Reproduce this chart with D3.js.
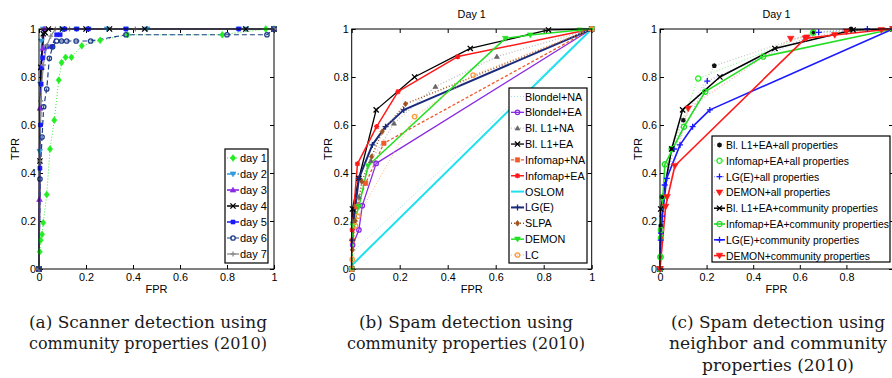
<!DOCTYPE html>
<html>
<head>
<meta charset="utf-8">
<script src="https://cdn.jsdelivr.net/npm/d3@7"></script>
<style>
  body { margin: 0; background: #fff; }
  svg { display: block; }
  text { font-family: "Liberation Sans", Arial, Helvetica, sans-serif; }
</style>
</head>
<body>
<svg id="chart" width="892" height="378"></svg>
<script>
// ---- data: [FPR, TPR] pairs ----
const ticks = [0, 0.2, 0.4, 0.6, 0.8, 1];
const tickLabels = ['0', '0.2', '0.4', '0.6', '0.8', '1'];

// (a) scanner detection, day 1..7
const aDays = ['day 1', 'day 2', 'day 3', 'day 4', 'day 5', 'day 6', 'day 7'];
const aDay1 = [[0,0],[0.003,0.072],[0.007,0.12],[0.013,0.144],[0.018,0.193],[0.033,0.31],[0.047,0.5],[0.065,0.62],[0.084,0.787],[0.096,0.86],[0.113,0.882],[0.138,0.882],[0.182,0.93],[0.26,0.953],[0.377,0.976],[0.78,0.976],[0.965,1],[1,1]];
const aDay2 = [[0,0],[0.003,0.49],[0.006,0.77],[0.01,0.95],[0.018,1],[0.1,1],[0.16,1],[0.21,1],[0.29,1],[0.37,1],[0.46,1],[0.85,1],[0.88,1],[1,1]];
const aDay3 = [[0,0],[0.002,0.29],[0.004,0.67],[0.01,0.84],[0.016,0.92],[0.022,1],[1,1]];
const aDay4 = [[0,0],[0.004,0.45],[0.008,0.84],[0.018,0.98],[0.026,0.985],[0.04,1],[0.1,1],[0.2,1],[0.3,1],[0.45,1],[0.88,1],[1,1]];
const aDay5 = [[0,0],[0.004,0.42],[0.006,0.6],[0.009,0.77],[0.012,0.84],[0.016,0.88],[0.033,0.926],[0.054,0.926],[0.075,0.976],[0.09,0.976],[0.11,1],[0.16,1],[0.21,1],[0.37,1],[0.85,1],[1,1]];
const aDay6 = [[0,0],[0.004,0.375],[0.013,0.55],[0.02,0.676],[0.033,0.75],[0.044,0.878],[0.058,0.926],[0.075,0.95],[0.096,0.95],[0.118,0.95],[0.158,0.95],[0.22,0.95],[0.37,0.976],[0.8,0.976],[0.97,0.976],[1,1]];
const aDay7 = [[0,0],[0.003,0.45],[0.007,0.7],[0.018,0.85],[0.033,0.93],[0.05,0.97],[0.07,1],[0.13,1],[0.41,1],[1,1]];

// (b) spam detection, community properties
const bNames = ['Blondel+NA', 'Blondel+EA', 'Bl. L1+NA', 'Bl. L1+EA', 'Infomap+NA', 'Infomap+EA', 'OSLOM', 'LG(E)', 'SLPA', 'DEMON', 'LC'];
const bBlondelNA = [[0,0],[0.014,0.08],[1,1]];
const bBlondelEA = [[0,0],[0.004,0.1],[0.03,0.163],[0.044,0.264],[0.102,0.44],[1,1]];
const bBlL1NA = [[0,0],[0.005,0.2],[0.03,0.3],[0.08,0.45],[0.176,0.607],[0.349,0.76],[0.605,0.885],[1,1]];
const bBlL1EA = [[0,0],[0.003,0.25],[0.03,0.378],[0.102,0.663],[0.262,0.8],[0.494,0.919],[0.82,0.996],[1,1]];
const bInfomapNA = [[0,0],[0.003,0.12],[0.02,0.26],[0.058,0.357],[0.134,0.524],[1,1]];
const bInfomapEA = [[0,0],[0.002,0.163],[0.024,0.438],[0.104,0.593],[0.193,0.739],[0.442,0.885],[1,1]];
const bOSLOM = [[0,0],[0.005,0.02],[1,1]];
const bLGE = [[0,0],[0.002,0.12],[0.01,0.22],[0.03,0.378],[0.086,0.517],[0.141,0.593],[0.217,0.663],[1,1]];
const bSLPA = [[0,0],[0.003,0.08],[0.015,0.2],[0.042,0.364],[0.083,0.468],[0.127,0.572],[0.224,0.688],[1,1]];
const bDEMON = [[0,0],[0.005,0.18],[0.03,0.26],[0.068,0.43],[0.64,0.961],[0.744,0.975],[0.95,0.996],[1,1]];
const bLC = [[0,0],[0.002,0.04],[0.016,0.18],[0.026,0.22],[0.262,0.635],[0.506,0.808],[1,1]];

// (c) spam detection, neighbor + community properties
const cNames = ['Bl. L1+EA+all properties', 'Infomap+EA+all properties', 'LG(E)+all properties', 'DEMON+all properties',
  'Bl. L1+EA+community properties', 'Infomap+EA+community properties', 'LG(E)+community properties', 'DEMON+community properties'];
const cBlAll = [[0,0],[0.003,0.18],[0.01,0.3],[0.05,0.503],[0.1,0.62],[0.233,0.847],[0.66,0.985],[0.82,1],[1,1]];
const cInfAll = [[0,0],[0.002,0.05],[0.004,0.13],[0.01,0.3],[0.05,0.5],[0.164,0.794],[0.657,0.985],[1,1]];
const cLGAll = [[0,0],[0.004,0.15],[0.02,0.35],[0.06,0.5],[0.203,0.783],[0.681,0.986],[0.89,1],[1,1]];
const cDemAll = [[0,0],[0.03,0.3],[0.121,0.669],[0.561,0.96],[0.63,0.965],[0.8,0.99],[1,1]];
const cBlCom = [[0,0],[0.003,0.25],[0.05,0.5],[0.097,0.663],[0.257,0.8],[0.493,0.919],[0.829,0.996],[1,1]];
const cInfCom = [[0,0],[0.002,0.05],[0.004,0.163],[0.021,0.436],[0.103,0.593],[0.194,0.739],[0.443,0.885],[1,1]];
const cLGCom = [[0,0],[0.003,0.12],[0.01,0.22],[0.029,0.378],[0.086,0.517],[0.14,0.593],[0.214,0.663],[1,1]];
const cDemCom = [[0,0],[0.024,0.26],[0.064,0.43],[0.624,0.961],[0.75,0.975],[0.95,0.996],[1,1]];

const DOT = '1,2', DASH = '5,3', DASHDOT = '5,2,1.5,2';

// marker paths centred on 0,0
function marker(type, s) {
  switch (type) {
    case 'circle': return `M${s},0A${s},${s} 0 1,1 ${-s},0A${s},${s} 0 1,1 ${s},0Z`;
    case 'square': return `M${-s},${-s}H${s}V${s}H${-s}Z`;
    case 'diamond': return `M0,${-s*1.3}L${s},0L0,${s*1.3}L${-s},0Z`;
    case 'tdown': return `M${-s*1.1},${-s*0.8}H${s*1.1}L0,${s*1.1}Z`;
    case 'tup': return `M${-s*1.1},${s*0.8}H${s*1.1}L0,${-s*1.1}Z`;
    case 'plus': return `M${-s},0H${s}M0,${-s}V${s}`;
    case 'x': return `M${-s},${-s}L${s},${s}M${-s},${s}L${s},${-s}`;
    case 'star': return `M${-s},0H${s}M0,${-s}V${s}M${-s*0.75},${-s*0.75}L${s*0.75},${s*0.75}M${-s*0.75},${s*0.75}L${s*0.75},${-s*0.75}`;
  }
}

function drawMarker(g, m, mc, x, y, size) {
  const p = g.append('path').attr('d', marker(m, size)).attr('transform', `translate(${x},${y})`);
  if (m === 'plus' || m === 'x' || m === 'star') p.attr('fill', 'none').attr('stroke', mc).attr('stroke-width', 1.3);
  else if (m === 'circle') p.attr('fill', 'none').attr('stroke', mc).attr('stroke-width', 1.3);
  else p.attr('fill', mc).attr('stroke', mc).attr('stroke-width', 0.6);
}

const svg = d3.select('#chart');
const FONT = '"Liberation Sans", Arial, Helvetica, sans-serif';

function panel(cfg) {
  const x = d3.scaleLinear().domain([0, 1]).range([cfg.left, cfg.right]);
  const y = d3.scaleLinear().domain([0, 1]).range([269, 29]);
  const g = svg.append('g');
  const fmtY = (d, i) => tickLabels[i];
  const fmtX = (d, i) => (cfg.hideLastX && i === ticks.length - 1) ? '' : tickLabels[i];

  g.append('g').attr('transform', 'translate(0,269)')
    .call(d3.axisBottom(x).tickValues(ticks).tickFormat(fmtX).tickSizeInner(-4).tickSizeOuter(0).tickPadding(4));
  g.append('g').attr('transform', `translate(${cfg.left},0)`)
    .call(d3.axisLeft(y).tickValues(ticks).tickFormat(fmtY).tickSizeInner(-4).tickSizeOuter(0).tickPadding(3));
  g.append('g').attr('transform', 'translate(0,29)')
    .call(d3.axisTop(x).tickValues(ticks).tickFormat('').tickSizeInner(-4).tickSizeOuter(0));
  g.append('g').attr('transform', `translate(${cfg.right},0)`)
    .call(d3.axisRight(y).tickValues(ticks).tickFormat('').tickSizeInner(-4).tickSizeOuter(0));
  g.selectAll('.domain').remove();
  g.selectAll('.tick line').attr('stroke', '#000');
  g.selectAll('.tick text').attr('fill', '#000').attr('font-family', FONT).style('font-size', '10.8px');

  const line = d3.line().x(d => x(d[0])).y(d => y(d[1]));
  cfg.series.forEach(s => {
    g.append('path').datum(s.data).attr('d', line)
      .attr('fill', 'none').attr('stroke', s.color).attr('stroke-width', s.width || 1.3)
      .attr('stroke-dasharray', s.dash || null).attr('stroke-linejoin', 'round');
  });
  cfg.series.forEach(s => {
    s.data.forEach(d => drawMarker(g, s.marker, s.mcolor || s.color, x(d[0]), y(d[1]), s.msize || 2.6));
  });

  g.append('rect').attr('x', cfg.left).attr('y', 29).attr('width', cfg.right - cfg.left).attr('height', 240)
    .attr('fill', 'none').attr('stroke', '#000').attr('stroke-width', 1);

  // legend
  const L = cfg.legend;
  g.append('rect').attr('x', L.x0).attr('y', L.y0).attr('width', L.x1 - L.x0).attr('height', L.y1 - L.y0)
    .attr('fill', '#fff').attr('stroke', '#000').attr('stroke-width', 1.2);
  cfg.series.forEach((s, i) => {
    const yy = L.first + i * L.step;
    g.append('line').attr('x1', L.x0 + 2).attr('x2', L.x0 + 2 + L.len).attr('y1', yy).attr('y2', yy)
      .attr('stroke', s.color).attr('stroke-width', s.width || 1.3).attr('stroke-dasharray', s.dash || null);
    drawMarker(g, s.marker, s.mcolor || s.color, L.x0 + 2 + L.len / 2, yy, s.msize || 2.6);
    g.append('text').attr('x', L.x0 + 3 + L.len).attr('y', yy + 4).attr('font-family', FONT)
      .style('font-size', L.font + 'px').attr('fill', '#000').text(s.name);
  });

  const mid = (cfg.left + cfg.right) / 2;
  g.append('text').attr('x', mid).attr('y', 293).attr('text-anchor', 'middle').style('font-size', '11px').text('FPR');
  g.append('text').attr('transform', `translate(${cfg.ylab},149) rotate(-90)`).attr('dy', '0.35em')
    .attr('text-anchor', 'middle').style('font-size', '11px').text('TPR');
  if (cfg.title) g.append('text').attr('x', mid).attr('y', 18).attr('text-anchor', 'middle')
    .style('font-size', '10.8px').text(cfg.title);

  cfg.caption.lines.forEach((t, i) => {
    svg.append('text').attr('x', cfg.caption.cx).attr('y', 328 + i * 21.3).attr('text-anchor', 'middle')
      .attr('textLength', cfg.caption.widths[i]).attr('lengthAdjust', 'spacingAndGlyphs')
      .style('font-family', '"DejaVu Serif", "Liberation Serif", serif').style('font-size', '17.5px')
      .attr('fill', '#1a1a1a').text(t);
  });
}

panel({
  left: 39, right: 274, ylab: 15,
  series: [
    { name: aDays[0], data: aDay1, color: '#33ee33', dash: DOT, marker: 'diamond', mcolor: '#22ee22', width: 1 },
    { name: aDays[1], data: aDay2, color: '#3399dd', dash: DASHDOT, marker: 'tdown' },
    { name: aDays[2], data: aDay3, color: '#8a2be2', marker: 'tup', width: 1.6 },
    { name: aDays[3], data: aDay4, color: '#000000', marker: 'x', width: 1.5 },
    { name: aDays[4], data: aDay5, color: '#1a1aff', dash: DASH, marker: 'square', msize: 2 },
    { name: aDays[5], data: aDay6, color: '#1f3d8a', dash: DASH, marker: 'circle', width: 1.2, msize: 2.2 },
    { name: aDays[6], data: aDay7, color: '#8c8c8c', marker: 'plus' }
  ],
  legend: { x0: 225, x1: 268, y0: 149, y1: 263, first: 158, step: 16, len: 12, font: 11 },
  caption: { cx: 148, lines: ['(a) Scanner detection using', 'community properties (2010)'], widths: [238, 238] }
});

panel({
  left: 351.7, right: 591.7, ylab: 328, title: 'Day 1',
  series: [
    { name: bNames[0], data: bBlondelNA, color: '#9fe3ea', dash: DOT, marker: 'square', msize: 0.1, width: 1 },
    { name: bNames[1], data: bBlondelEA, color: '#8a2be2', marker: 'circle', msize: 2.2 },
    { name: bNames[2], data: bBlL1NA, color: '#bdbdbd', dash: DOT, marker: 'tup', mcolor: '#666', msize: 2.3 },
    { name: bNames[3], data: bBlL1EA, color: '#000000', marker: 'x', msize: 2.6 },
    { name: bNames[4], data: bInfomapNA, color: '#ef5a2a', dash: '3,2', marker: 'square', msize: 2.2 },
    { name: bNames[5], data: bInfomapEA, color: '#ff1a1a', marker: 'star', width: 1.5 },
    { name: bNames[6], data: bOSLOM, color: '#1ee0ee', marker: 'square', msize: 0.1, width: 2 },
    { name: bNames[7], data: bLGE, color: '#1a2a7a', marker: 'plus', width: 2, msize: 3 },
    { name: bNames[8], data: bSLPA, color: '#a0521e', dash: DOT, marker: 'diamond', msize: 2.2, width: 1.5 },
    { name: bNames[9], data: bDEMON, color: '#22e022', marker: 'tdown', width: 1.5 },
    { name: bNames[10], data: bLC, color: '#ffb070', dash: DOT, marker: 'circle', mcolor: '#ff9a3a', msize: 2.2, width: 1 }
  ],
  legend: { x0: 509, x1: 587, y0: 88, y1: 263, first: 96.5, step: 15.85, len: 13, font: 10.8 },
  caption: { cx: 466, lines: ['(b) Spam detection using', 'community properties (2010)'], widths: [214, 238] }
});

panel({
  left: 660, right: 893, ylab: 638, title: 'Day 1', hideLastX: true,
  series: [
    { name: cNames[0], data: cBlAll, color: '#c8c8c8', dash: DOT, marker: 'star', mcolor: '#111', width: 1.2, msize: 2.4 },
    { name: cNames[1], data: cInfAll, color: '#9ef09e', dash: DOT, marker: 'circle', mcolor: '#22ee22', width: 1.2 },
    { name: cNames[2], data: cLGAll, color: '#a0a8ff', dash: DOT, marker: 'plus', mcolor: '#1a1aff', width: 1.2, msize: 3 },
    { name: cNames[3], data: cDemAll, color: '#ffb0b0', dash: DOT, marker: 'tdown', mcolor: '#ff1a1a', width: 1.2, msize: 3 },
    { name: cNames[4], data: cBlCom, color: '#000000', marker: 'x', width: 1.5 },
    { name: cNames[5], data: cInfCom, color: '#22dd22', marker: 'circle', width: 1.6 },
    { name: cNames[6], data: cLGCom, color: '#1a1aff', marker: 'plus', width: 1.6, msize: 3 },
    { name: cNames[7], data: cDemCom, color: '#ff1a1a', marker: 'tdown', width: 1.6, msize: 3 }
  ],
  legend: { x0: 712, x1: 890, y0: 136, y1: 262, first: 145, step: 15.8, len: 11, font: 10.4 },
  caption: { cx: 778, lines: ['(c) Spam detection using', 'neighbor and community', 'properties (2010)'], widths: [214, 218, 152] }
});
</script>
</body>
</html>
